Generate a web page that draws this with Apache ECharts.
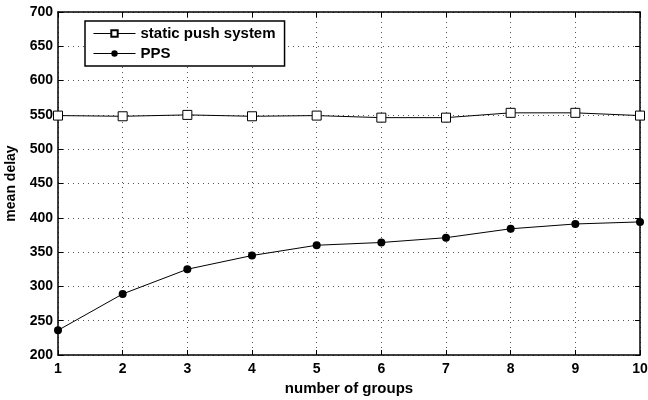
<!DOCTYPE html>
<html>
<head>
<meta charset="utf-8">
<script src="https://cdn.jsdelivr.net/npm/echarts@6/dist/echarts.min.js"></script>
<style>
  html, body { margin: 0; padding: 0; background: #fff; }
  #chart { width: 648px; height: 400px; }
</style>
</head>
<body>
<div id="chart"></div>
<script>
// groups on the x axis
const groups = [1, 2, 3, 4, 5, 6, 7, 8, 9, 10]
// mean delay
const staticPush = [549, 548, 550, 548, 549, 546, 546, 553, 553, 549]
const pps = [236, 289, 325, 345, 360, 364, 371, 384, 391, 394]

const font = 'Liberation Sans, Arial, Helvetica, sans-serif'
const dotted = { color: '#555', width: 1, type: [1, 4] }

function pairs(vals) {
  return groups.map((g, i) => [g, vals[i]])
}

let chart = echarts.init(document.getElementById('chart'))
chart.setOption({
  animation: false,
  backgroundColor: '#fff',
  grid: { left: 58, top: 12, right: 8, bottom: 45, containLabel: false, outerBoundsMode: 'none' },
  legend: {
    left: 85, top: 21,
    orient: 'vertical',
    itemWidth: 42, itemHeight: 8, itemGap: 5,
    padding: [5, 9, 5, 8],
    borderColor: '#000', borderWidth: 1.5,
    backgroundColor: '#fff',
    lineStyle: { width: 1 },
    textStyle: { fontFamily: font, fontWeight: 'bold', fontSize: 15, color: '#000' },
    data: ['static push system', 'PPS']
  },
  xAxis: [{
    type: 'value', min: 1, max: 10, interval: 1,
    name: 'number of groups', nameLocation: 'middle', nameGap: 25,
    nameTextStyle: { fontFamily: font, fontWeight: 'bold', fontSize: 15, color: '#000' },
    axisLine: { lineStyle: { color: '#000', width: 1.5 } },
    axisTick: { inside: true, length: 5, lineStyle: { color: '#000' } },
    axisLabel: { fontFamily: font, fontWeight: 'bold', fontSize: 14, color: '#000', margin: 7 },
    splitLine: { show: true, lineStyle: dotted }
  }, {
    type: 'value', min: 1, max: 10, interval: 1, position: 'top',
    axisLine: { lineStyle: { color: '#000', width: 1.5 } },
    axisTick: { inside: true, length: 5, lineStyle: { color: '#000' } },
    axisLabel: { show: false }, splitLine: { show: false }
  }],
  yAxis: [{
    type: 'value', min: 200, max: 700, interval: 50,
    name: 'mean delay', nameLocation: 'middle', nameGap: 40,
    nameTextStyle: { fontFamily: font, fontWeight: 'bold', fontSize: 14, color: '#000' },
    axisLine: { show: true, lineStyle: { color: '#000', width: 1.5 } },
    axisTick: { show: true, inside: true, length: 5, lineStyle: { color: '#000' } },
    axisLabel: { fontFamily: font, fontWeight: 'bold', fontSize: 14, color: '#000', margin: 5 },
    splitLine: { show: true, lineStyle: dotted }
  }, {
    type: 'value', min: 200, max: 700, interval: 50, position: 'right',
    axisLine: { show: true, lineStyle: { color: '#000', width: 1.5 } },
    axisTick: { show: true, inside: true, length: 5, lineStyle: { color: '#000' } },
    axisLabel: { show: false }, splitLine: { show: false }
  }],
  series: [{
    name: 'static push system',
    type: 'line',
    data: pairs(staticPush),
    symbol: 'rect', symbolSize: 9,
    lineStyle: { color: '#000', width: 1 },
    itemStyle: { color: '#fff', borderColor: '#000', borderWidth: 1 }
  }, {
    name: 'PPS',
    type: 'line',
    data: pairs(pps),
    symbol: 'circle', symbolSize: 8,
    lineStyle: { color: '#000', width: 1 },
    itemStyle: { color: '#000', borderColor: '#000', borderWidth: 0 }
  }]
})
window.addEventListener('resize', () => {
  chart.resize()
})
</script>
</body>
</html>
